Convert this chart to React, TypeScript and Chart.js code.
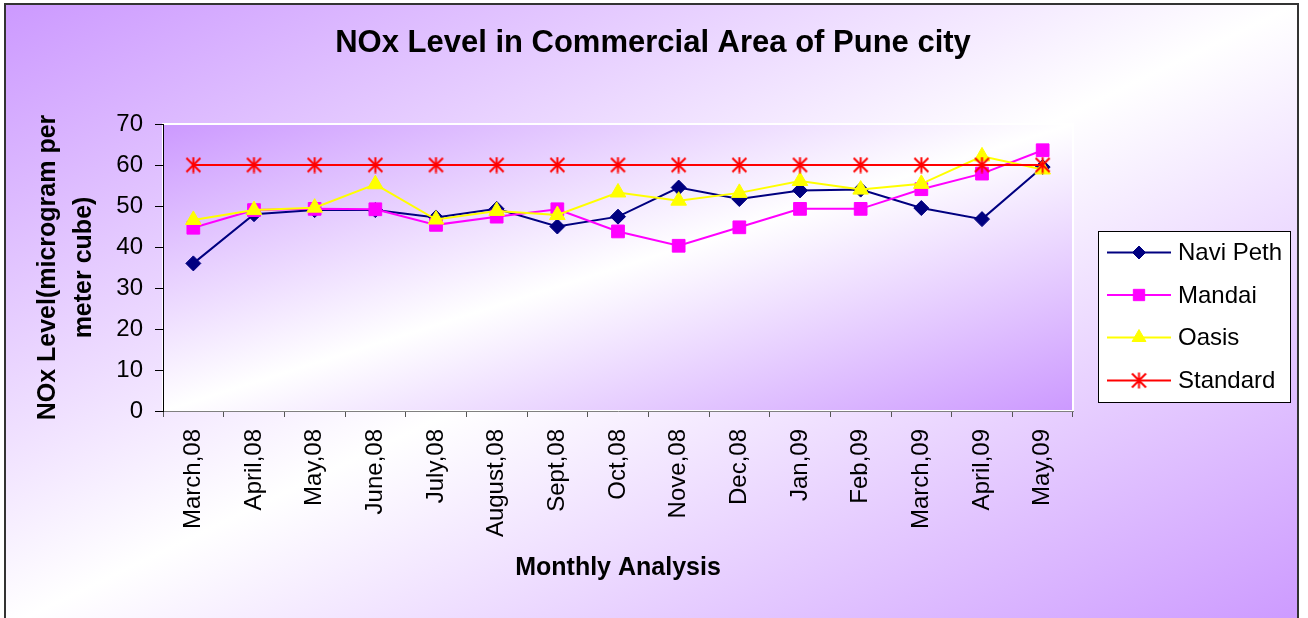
import React, { useEffect, useRef } from 'react';
import { Chart, registerables } from 'chart.js';
import { drawPoint } from 'chart.js/helpers';

Chart.register(...registerables);

const categories = [
  'March,08', 'April,08', 'May,08', 'June,08', 'July,08', 'August,08', 'Sept,08',
  'Oct,08', 'Nove,08', 'Dec,08', 'Jan,09', 'Feb,09', 'March,09', 'April,09', 'May,09',
];
const naviPeth = [36, 48, 49, 49, 47.2, 49.3, 45, 47.4, 54.5, 51.7, 53.8, 54, 49.5, 46.8, 59.5];
const mandai = [44.7, 49, 49.3, 49.2, 45.4, 47.4, 49.2, 43.8, 40.3, 44.8, 49.3, 49.3, 54.1, 57.9, 63.6];
const oasis = [46.6, 49, 49.6, 55.3, 46.7, 48.8, 47.8, 53.3, 51.3, 53.2, 56.1, 54, 55.4, 62.1, 58.9];
const standard = [60, 60, 60, 60, 60, 60, 60, 60, 60, 60, 60, 60, 60, 60, 60];

const seriesNames = ['Navi Peth', 'Mandai', 'Oasis', 'Standard'];
const seriesColors = ['#000080', '#FF00FF', '#FFFF00', '#FF0000'];

const titleText = 'NOx Level in Commercial Area of Pune city';
const xTitle = 'Monthly Analysis';
const yTitle = ['NOx Level(microgram per', 'meter cube)'];
const yMin = 0;
const yMax = 70;
const yStep = 10;

const FONT = "'Liberation Sans', Arial, Helvetica, sans-serif";

function makeStar(): HTMLCanvasElement {
  const c = document.createElement('canvas');
  c.width = 17;
  c.height = 17;
  const g = c.getContext('2d')!;
  g.strokeStyle = '#FF0000';
  g.lineWidth = 2;
  g.beginPath();
  g.moveTo(1.5, 1.5);
  g.lineTo(15.5, 15.5);
  g.moveTo(15.5, 1.5);
  g.lineTo(1.5, 15.5);
  g.moveTo(8.5, 0.5);
  g.lineTo(8.5, 16.5);
  g.stroke();
  return c;
}

function fillDiag(ctx: CanvasRenderingContext2D, x: number, y: number, w: number, h: number) {
  ctx.save();
  ctx.translate(x, y);
  ctx.scale(w, h);
  const g = ctx.createLinearGradient(0, 0, 1, 1);
  g.addColorStop(0, '#CC99FF');
  g.addColorStop(0.5, '#FFFFFF');
  g.addColorStop(1, '#CC99FF');
  ctx.fillStyle = g;
  ctx.fillRect(0, 0, 1, 1);
  ctx.restore();
}

export default function App() {
  const ref = useRef<HTMLCanvasElement | null>(null);

  useEffect(() => {
    if (!ref.current) return;
    const star = makeStar();
    const styles: any[] = ['rectRot', 'rect', 'triangle', star];
    const radii = [7.5, 9, 9, 8.5];
    const values = [naviPeth, mandai, oasis, standard];

    const bgPlugin = {
      id: 'bgPlugin',
      beforeDraw(chart: any) {
        const { ctx, width, height, chartArea: a } = chart;
        ctx.save();
        ctx.fillStyle = '#FFFFFF';
        ctx.fillRect(0, 0, width, height);
        fillDiag(ctx, 4, 3, 1295, 625);
        ctx.strokeStyle = '#333333';
        ctx.lineWidth = 2;
        ctx.strokeRect(5, 4, 1293, 700);
        fillDiag(ctx, a.left, a.top, a.right - a.left, a.bottom - a.top);
        ctx.strokeStyle = '#FFFFFF';
        ctx.lineWidth = 2;
        ctx.strokeRect(a.left, a.top, a.right - a.left, a.bottom - a.top);
        ctx.restore();
      },
      afterDraw(chart: any) {
        const { ctx } = chart;
        ctx.save();
        // title
        ctx.fillStyle = '#000000';
        ctx.font = `bold 31px ${FONT}`;
        ctx.textAlign = 'center';
        ctx.textBaseline = 'alphabetic';
        ctx.fillText(titleText, 653, 52);
        // legend box
        const bx = 1098, by = 231, bw = 192, bh = 171;
        ctx.fillStyle = '#FFFFFF';
        ctx.fillRect(bx, by, bw, bh);
        ctx.strokeStyle = '#000000';
        ctx.lineWidth = 1;
        ctx.strokeRect(bx + 0.5, by + 0.5, bw, bh);
        const rowY = [252.5, 295, 337.5, 380.5];
        seriesNames.forEach((name, i) => {
          const y = rowY[i];
          ctx.strokeStyle = seriesColors[i];
          ctx.lineWidth = 2;
          ctx.beginPath();
          ctx.moveTo(1107, y);
          ctx.lineTo(1171, y);
          ctx.stroke();
          ctx.fillStyle = seriesColors[i];
          ctx.strokeStyle = seriesColors[i];
          ctx.lineWidth = 1;
          drawPoint(ctx, { pointStyle: styles[i], rotation: 0, radius: radii[i] - 1, borderWidth: 1 } as any, 1139, y);
          ctx.fillStyle = '#000000';
          ctx.font = `24px ${FONT}`;
          ctx.textAlign = 'left';
          ctx.textBaseline = 'middle';
          ctx.fillText(name, 1178, y + 1);
        });
        ctx.restore();
      },
    };

    const chart = new Chart(ref.current, {
      type: 'line',
      data: {
        labels: categories,
        datasets: seriesNames.map((name, i) => ({
          label: name,
          data: values[i],
          borderColor: seriesColors[i],
          backgroundColor: seriesColors[i],
          pointBackgroundColor: seriesColors[i],
          pointBorderColor: seriesColors[i],
          pointStyle: styles[i],
          pointRadius: radii[i],
          pointHoverRadius: radii[i],
          pointBorderWidth: 1,
          borderWidth: 2,
          tension: 0,
          fill: false,
          order: 4 - i,
        })),
      },
      options: {
        responsive: false,
        animation: false,
        devicePixelRatio: 1,
        events: [],
        layout: { padding: { left: 8, top: 124, right: 235, bottom: 8 } },
        plugins: {
          legend: { display: false },
          tooltip: { enabled: false },
          title: { display: false },
        },
        scales: {
          x: {
            type: 'category',
            offset: true,
            grid: { display: true, drawOnChartArea: false, drawTicks: true, tickLength: 6, offset: true, color: '#555555' },
            border: { display: true, color: '#808080', width: 1 },
            ticks: {
              autoSkip: false,
              minRotation: 90,
              maxRotation: 90,
              padding: 12,
              color: '#000000',
              font: { family: FONT, size: 24 },
            },
            title: {
              display: true,
              text: xTitle,
              color: '#000000',
              font: { family: FONT, size: 25, weight: 'bold', lineHeight: 1.2 },
              padding: { top: 0, bottom: 27 },
            },
            afterFit: (s: any) => { s.height = 199; },
          },
          y: {
            min: yMin,
            max: yMax,
            ticks: { stepSize: yStep, padding: 12, color: '#000000', font: { family: FONT, size: 24 } },
            grid: { display: true, drawOnChartArea: false, drawTicks: true, tickLength: 8, color: '#000000' },
            border: { display: true, color: '#000000', width: 1 },
            title: {
              display: true,
              text: yTitle,
              color: '#000000',
              font: { family: FONT, size: 25, weight: 'bold', lineHeight: 1.44 },
              padding: { top: 22, bottom: 0 },
            },
            afterFit: (s: any) => { s.width = 155; },
          },
        },
      } as any,
      plugins: [bgPlugin],
    });
    return () => chart.destroy();
  }, []);

  return (
    <div style={{ position: 'absolute', left: 0, top: 0, width: 1308, height: 618 }}>
      <canvas ref={ref} width={1308} height={618} style={{ display: 'block', width: 1308, height: 618 }} />
    </div>
  );
}
